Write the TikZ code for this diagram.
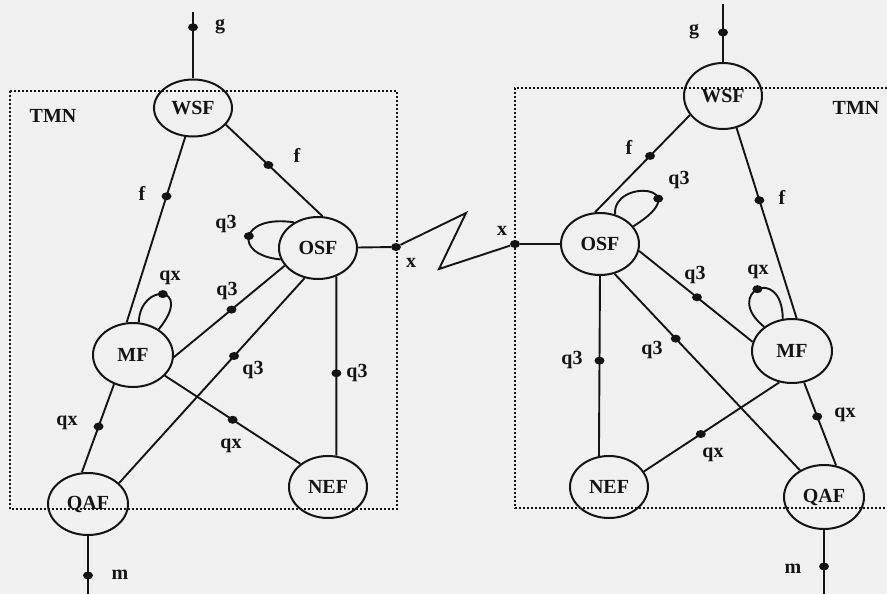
\documentclass[tikz,border=0pt]{standalone}
\usepackage{fontspec}
\setmainfont{Liberation Serif}
\usetikzlibrary{shapes.geometric}
\definecolor{ink}{RGB}{20,20,20}
\definecolor{paper}{RGB}{240,240,240}
\newcommand\labfont{\fontsize{20}{21}\selectfont\bfseries}
\begin{document}
\begin{tikzpicture}[x=1pt,y=-1pt,
  fn/.style={ellipse, draw=ink, line width=2pt, inner sep=0pt, font=\labfont, text=ink},
  pt/.style={ellipse, fill=ink, inner sep=0pt, minimum width=10pt, minimum height=8pt},
  lab/.style={font=\labfont, text=ink, inner sep=0pt},
  ln/.style={draw=ink, line width=1.9pt},
  tmnbox/.style={draw=ink, line width=2pt, dash pattern=on 2pt off 2pt}]
\fill[paper] (0,0) rectangle (887,594);
\useasboundingbox (0,0) rectangle (887,594);

% TMN boxes
\draw[tmnbox] (10,91) rectangle (397,509);
\draw[tmnbox] (887,88) -- (515,88) -- (515,508) -- (887,508);
\node[lab] (tmnl) at (53,116) {TMN};
\node[lab] (tmnr) at (856,108) {TMN};

% left nodes
\node[fn, minimum width=78pt, minimum height=57pt] (WSFl) at (193,108) {WSF};
\node[fn, minimum width=78pt, minimum height=62pt] (OSFl) at (318,248) {OSF};
\node[fn, minimum width=80pt, minimum height=64pt] (MFl) at (133,355) {MF};
\node[fn, minimum width=80pt, minimum height=62pt] (QAFl) at (88,504) {QAF};
\node[fn, minimum width=78pt, minimum height=62pt] (NEFl) at (328,487) {NEF};
% right nodes
\node[fn, minimum width=78pt, minimum height=66pt] (WSFr) at (723,96) {WSF};
\node[fn, minimum width=78pt, minimum height=62pt] (OSFr) at (600,244) {OSF};
\node[fn, minimum width=80pt, minimum height=64pt] (MFr) at (792,351) {MF};
\node[fn, minimum width=80pt, minimum height=64pt] (QAFr) at (824,497) {QAF};
\node[fn, minimum width=78pt, minimum height=62pt] (NEFr) at (609,487) {NEF};

% free ends and x points
\coordinate (gl) at (193,12);
\coordinate (ml) at (88,594);
\coordinate (gr) at (723,4);
\coordinate (mr) at (824,594);
\coordinate (z1) at (466,213);
\coordinate (z2) at (439,269);
\node[pt] (xl) at (396,247) {};
\node[pt] (xr) at (515,244) {};

% left connectors
\draw[ln] (WSFl.north) -- node[pt,pos=0.77]{} (gl);
\draw[ln] (WSFl.-27) -- node[pt,pos=0.44]{} (OSFl.82);
\draw[ln] (WSFl.-105) -- node[pt,pos=0.32]{} (MFl.101);
\draw[ln] (MFl.80) .. controls (140,282) and (195,285) .. (MFl.45) node[pt,pos=0.5]{};
\draw[ln] (OSFl.133) .. controls (240,214) and (232,255) .. (OSFl.197) node[pt,pos=0.5]{};
\draw[ln] (OSFl.208) -- node[pt,pos=0.48]{} (MFl.-3);
\draw[ln] (OSFl.246) -- node[pt,pos=0.38]{} (QAFl.34);
\draw[ln] (OSFl.-57) -- node[pt,pos=0.54]{} (NEFl.75);
\draw[ln] (MFl.-33) -- node[pt,pos=0.5]{} (NEFl.140);
\draw[ln] (MFl.-123) -- node[pt,pos=0.48]{} (QAFl.101);
\draw[ln] (QAFl.south) -- node[pt,pos=0.68]{} (ml);

% interconnection x
\draw[ln] (OSFl) -- (xl) -- (z1) -- (z2) -- (xr) -- (OSFr);

% right connectors
\draw[ln] (WSFr.north) -- node[pt,pos=0.51]{} (gr);
\draw[ln] (WSFr.210) -- node[pt,pos=0.42]{} (OSFr.99);
\draw[ln] (WSFr.-67) -- node[pt,pos=0.38]{} (MFr.82);
\draw[ln] (OSFr.63) .. controls (612,178) and (700,185) .. (OSFr.28) node[pt,pos=0.7]{};
\draw[ln] (MFr.139) .. controls (722,293) and (782,263) .. (MFr.106) node[pt,pos=0.5]{};
\draw[ln] (OSFr.-10) -- node[pt,pos=0.51]{} (MFr.167);
\draw[ln] (OSFr.-64) -- node[pt,pos=0.33]{} (QAFr.132);
\draw[ln] (OSFr.-90) -- node[pt,pos=0.47]{} (NEFr.108);
\draw[ln] (NEFr.24) -- node[pt,pos=0.42]{} (MFr.-112);
\draw[ln] (MFr.-69) -- node[pt,pos=0.41]{} (QAFr.69);
\draw[ln] (QAFr.south) -- node[pt,pos=0.57]{} (mr);

% left labels
\node[lab] (lgl) at (220,27) {g};
\node[lab] (lf1) at (297,155) {f};
\node[lab] (lf2) at (142,193) {f};
\node[lab] (lq1) at (226,224) {q3};
\node[lab] (lqx1) at (170,278) {qx};
\node[lab] (lq2) at (227,291) {q3};
\node[lab] (lq3) at (253,370) {q3};
\node[lab] (lq4) at (357,373) {q3};
\node[lab] (lqx2) at (67,423) {qx};
\node[lab] (lqx3) at (231,446) {qx};
\node[lab] (lml) at (120,575) {m};
\node[lab] (lxl) at (411,263) {x};
% right labels
\node[lab] (lgr) at (694,32) {g};
\node[lab] (lf3) at (629,147) {f};
\node[lab] (lf4) at (782,197) {f};
\node[lab] (lq5) at (679,180) {q3};
\node[lab] (lqx4) at (758,272) {qx};
\node[lab] (lq6) at (695,275) {q3};
\node[lab] (lq7) at (652,350) {q3};
\node[lab] (lq8) at (572,360) {q3};
\node[lab] (lqx5) at (713,455) {qx};
\node[lab] (lqx6) at (845,415) {qx};
\node[lab] (lmr) at (793,569) {m};
\node[lab] (lxr) at (502,231) {x};
\end{tikzpicture}
\end{document}
